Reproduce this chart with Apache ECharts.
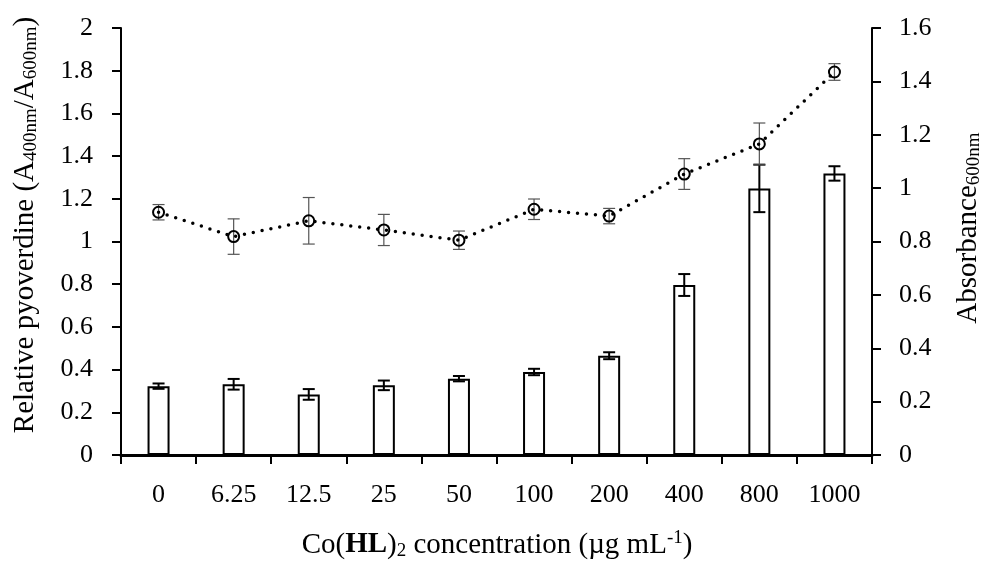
<!DOCTYPE html>
<html>
<head>
<meta charset="utf-8">
<script src="https://cdn.jsdelivr.net/npm/echarts@6/dist/echarts.min.js"></script>
<style>
  html, body { margin: 0; padding: 0; background: #fff; }
  #chart { width: 983px; height: 563px; }
</style>
</head>
<body>
<div id="chart"></div>
<script>
// Co(HL)2 concentration (µg/mL)
var categories = ['0', '6.25', '12.5', '25', '50', '100', '200', '400', '800', '1000'];
// Absorbance 600nm (bars, right axis)
var absorbance = [0.258, 0.265, 0.227, 0.261, 0.286, 0.311, 0.372, 0.637, 0.999, 1.055];
var absorbanceErr = [0.010, 0.020, 0.020, 0.018, 0.010, 0.012, 0.013, 0.041, 0.089, 0.027];
// Relative pyoverdine A400/A600 (dotted line, left axis)
var pyoverdine = [1.137, 1.023, 1.097, 1.054, 1.006, 1.151, 1.119, 1.316, 1.457, 1.794];
var pyoverdineErr = [0.036, 0.083, 0.109, 0.073, 0.043, 0.048, 0.036, 0.072, 0.098, 0.039];

var FONT = 'Liberation Serif';

var chart = echarts.init(document.getElementById('chart'));

// error bars drawn with the axes' own coordinates
function errorBars(color, width, capHalf) {
  return function (params, api) {
    var i = api.value(0), v = api.value(1), e = api.value(2);
    var hi = api.coord([i, v + e]);
    var lo = api.coord([i, v - e]);
    var st = { stroke: color, lineWidth: width };
    return {
      type: 'group',
      children: [
        { type: 'line', shape: { x1: hi[0], y1: hi[1], x2: lo[0], y2: lo[1] }, style: st },
        { type: 'line', shape: { x1: hi[0] - capHalf, y1: hi[1], x2: hi[0] + capHalf, y2: hi[1] }, style: st },
        { type: 'line', shape: { x1: lo[0] - capHalf, y1: lo[1], x2: lo[0] + capHalf, y2: lo[1] }, style: st }
      ]
    };
  };
}

function fmt(v) { return String(+v.toFixed(1)); }

var labelStyle = { color: '#000', fontFamily: FONT, fontSize: 26 };

// rich styles for the axis titles (subscripts / superscript)
var richTitle = {
  n: { fontFamily: FONT, fontSize: 29, lineHeight: 32, fill: '#000' },
  b: { fontFamily: FONT, fontSize: 29, lineHeight: 32, fontWeight: 'bold', fill: '#000' },
  s: { fontFamily: FONT, fontSize: 19, lineHeight: 32, padding: [13, 0, 0, 0], fill: '#000' },
  p: { fontFamily: FONT, fontSize: 19, lineHeight: 32, padding: [0, 0, 13, 0], fill: '#000' }
};

chart.setOption({
  animation: false,
  grid: { left: 121, right: 111, top: 28, bottom: 108 },
  xAxis: {
    type: 'category',
    data: categories,
    axisLine: { lineStyle: { color: '#000', width: 3 } },
    axisTick: { show: true, length: 9, lineStyle: { color: '#000', width: 2 } },
    axisLabel: Object.assign({ margin: 27, interval: 0 }, labelStyle)
  },
  yAxis: [{
    type: 'value',
    min: 0, max: 2, interval: 0.2,
    axisLine: { show: true, lineStyle: { color: '#000', width: 2 } },
    axisTick: { show: true, length: 9, lineStyle: { color: '#000', width: 2 } },
    splitLine: { show: false },
    axisLabel: Object.assign({ margin: 28, formatter: fmt }, labelStyle)
  }, {
    type: 'value',
    position: 'right',
    min: 0, max: 1.6, interval: 0.2,
    axisLine: { show: true, lineStyle: { color: '#000', width: 2 } },
    axisTick: { show: true, length: 9, lineStyle: { color: '#000', width: 2 } },
    splitLine: { show: false },
    axisLabel: Object.assign({ margin: 27, formatter: fmt }, labelStyle)
  }],
  series: [{
    name: 'Absorbance',
    type: 'bar',
    yAxisIndex: 1,
    barWidth: 22,
    data: absorbance,
    itemStyle: { color: '#fff', borderColor: '#000', borderWidth: 2 },
    z: 2
  }, {
    type: 'custom',
    yAxisIndex: 1,
    renderItem: errorBars('#000', 2, 6),
    data: absorbance.map(function (v, i) { return [i, v, absorbanceErr[i]]; }),
    z: 3
  }, {
    type: 'custom',
    yAxisIndex: 0,
    renderItem: errorBars('#555', 1.2, 6),
    data: pyoverdine.map(function (v, i) { return [i, v, pyoverdineErr[i]]; }),
    z: 4
  }, {
    name: 'Pyoverdine',
    type: 'line',
    yAxisIndex: 0,
    data: pyoverdine,
    symbol: 'circle',
    symbolSize: 11,
    lineStyle: { color: '#000', width: 3.5, type: [0, 9], cap: 'round' },
    itemStyle: { color: 'rgba(0,0,0,0)', borderColor: '#000', borderWidth: 2 },
    z: 5
  }],
  graphic: [{
    type: 'text',
    x: 25, y: 225,
    rotation: Math.PI / 2,
    style: {
      text: '{n|Relative pyoverdine (A}{s|400nm}{n|/A}{s|600nm}{n|)}',
      align: 'center', verticalAlign: 'middle',
      fill: '#000',
      rich: richTitle
    }
  }, {
    type: 'text',
    x: 968, y: 228,
    rotation: Math.PI / 2,
    style: {
      text: '{n|Absorbance}{s|600nm}',
      align: 'center', verticalAlign: 'middle',
      fill: '#000',
      rich: richTitle
    }
  }, {
    type: 'text',
    x: 497, y: 545,
    style: {
      text: '{n|Co(}{b|HL}{n|)}{s|2}{n| concentration (µg mL}{p|-1}{n|)}',
      align: 'center', verticalAlign: 'middle',
      fill: '#000',
      rich: richTitle
    }
  }]
});
</script>
</body>
</html>
